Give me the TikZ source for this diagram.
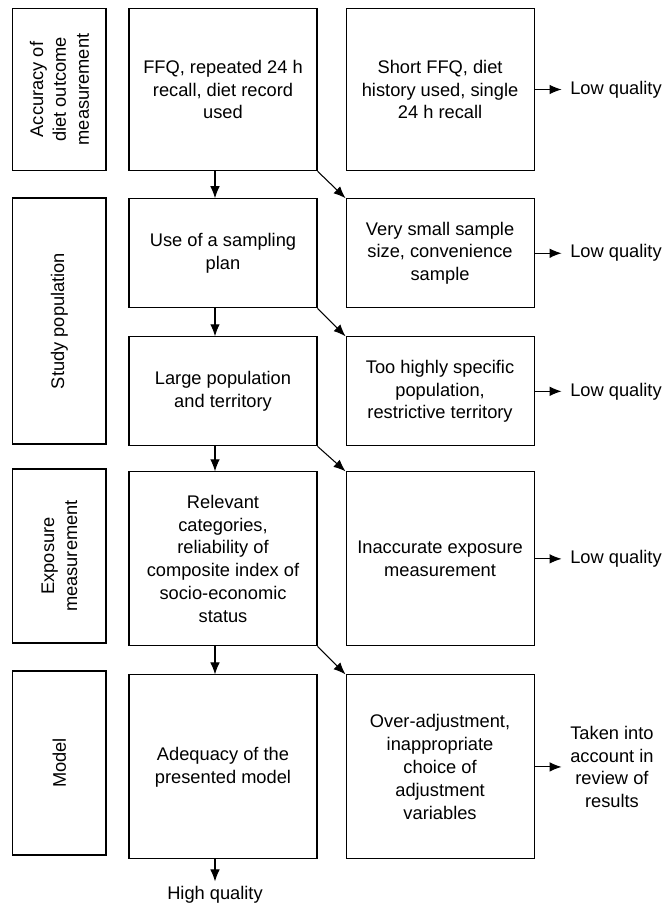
\documentclass[tikz,border=0pt]{standalone}
\usepackage{fontspec}
\setmainfont{Liberation Sans}
\usetikzlibrary{positioning, arrows.meta}

\begin{document}
\begin{tikzpicture}[
        txt/.style={font=\fontsize{13pt}{16.3pt}\selectfont, align=center},
        box/.style={txt, draw, line width=0.75pt, minimum width=4.7cm},
        sidebox/.style={txt, draw, line width=0.75pt, rotate=90, minimum height=2.33cm},
        verdict/.style={txt, inner xsep=6pt},
        >={Latex[length=3mm, width=2.4mm]}
    ]
            \useasboundingbox (0, 0) rectangle (16.575, -22.8);
            % middle column: what a good study does
            \node[box, minimum height=4.06cm] (ffq) at (5.575, -2.2375) {FFQ, repeated 24 h\\recall, diet record\\used};
            \node[box, minimum height=2.725cm, below=0.675cm of ffq] (plan) {Use of a sampling\\plan};
            \node[box, minimum height=2.725cm, below=0.7cm of plan] (population) {Large population\\and territory};
            \node[box, minimum height=4.35cm, below=0.625cm of population] (relevant) {Relevant\\categories,\\reliability of\\composite index of\\socio-economic\\status};
            \node[box, minimum height=4.6cm, below=0.7cm of relevant] (adequacy) {Adequacy of the\\presented model};
            % right column: the weak points
            \node[box, minimum height=4.06cm, right=0.7cm of ffq] (shortffq) {Short FFQ, diet\\history used, single\\24 h recall};
            \node[box, minimum height=2.725cm, right=0.7cm of plan] (smallsample) {Very small sample\\size, convenience\\sample};
            \node[box, minimum height=2.725cm, right=0.7cm of population] (specific) {Too highly specific\\population,\\restrictive territory};
            \node[box, minimum height=4.35cm, right=0.7cm of relevant] (inaccurate) {Inaccurate exposure\\measurement};
            \node[box, minimum height=4.6cm, right=0.7cm of adequacy] (overadj) {Over-adjustment,\\inappropriate\\choice of\\adjustment\\variables};
            % left column: criteria
            \node[sidebox, minimum width=4.06cm] (accuracy) at (1.485, -2.2375) {Accuracy of\\diet outcome\\measurement};
            \node[sidebox, minimum width=6.15cm] (study) at (1.485, -8.025) {Study population};
            \node[sidebox, minimum width=4.35cm] (exposure) at (1.485, -13.9) {Exposure\\measurement};
            \node[sidebox, minimum width=4.6cm] (model) at (1.485, -19.075) {Model};
            % outcomes
            \node[verdict, right=0.675cm of shortffq] (low1) {Low quality};
            \node[verdict, right=0.675cm of smallsample] (low2) {Low quality};
            \node[verdict, right=0.675cm of specific] (low3) {Low quality};
            \node[verdict, right=0.675cm of inaccurate] (low4) {Low quality};
            \node[verdict, right=0.675cm of overadj] (taken) {Taken into\\account in\\review of\\results};
            \node[txt, below=0.55cm of adequacy, xshift=-0.2cm] (high) {High quality};
            \draw[->, line width=0.75pt] ([xshift=-0.2cm]ffq.south) -- ([xshift=-0.2cm]plan.north);
            \draw[->, line width=0.75pt] ([xshift=-0.2cm]plan.south) -- ([xshift=-0.2cm]population.north);
            \draw[->, line width=0.75pt] ([xshift=-0.2cm]population.south) -- ([xshift=-0.2cm]relevant.north);
            \draw[->, line width=0.75pt] ([xshift=-0.2cm]relevant.south) -- ([xshift=-0.2cm]adequacy.north);
            \draw[->, line width=0.75pt] (high.north |- adequacy.south) -- (high.north);
            \draw[->, line width=0.75pt] (ffq.south east) -- (smallsample.north west);
            \draw[->, line width=0.75pt] (plan.south east) -- (specific.north west);
            \draw[->, line width=0.75pt] (population.south east) -- (inaccurate.north west);
            \draw[->, line width=0.75pt] (relevant.south east) -- (overadj.north west);
            \draw[->, line width=0.75pt] (shortffq) -- (low1);
            \draw[->, line width=0.75pt] (smallsample) -- (low2);
            \draw[->, line width=0.75pt] (specific) -- (low3);
            \draw[->, line width=0.75pt] (inaccurate) -- (low4);
            \draw[->, line width=0.75pt] (overadj) -- (taken);
        \end{tikzpicture}
\end{document}
